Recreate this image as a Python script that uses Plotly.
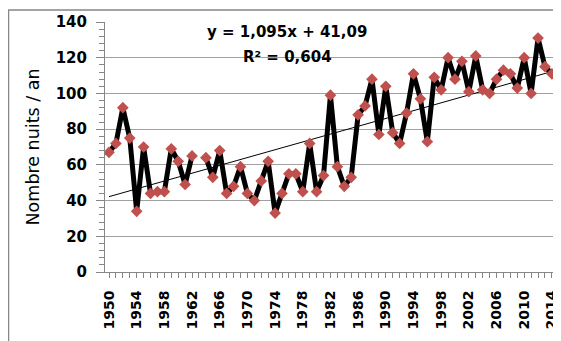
import plotly.graph_objects as go

# ---- data ----
years = list(range(1950, 2017))
nights = [
    67, 72, 92, 75, 34, 70, 44, 45, 45, 69,      # 1950-1959
    62, 49, 65, None, 64, 53, 68, 44, 48, 59,    # 1960-1969
    44, 40, 51, 62, 33, 44, 55, 55, 45, 72,      # 1970-1979
    45, 54, 99, 59, 48, 53, 88, 93, 108, 77,     # 1980-1989
    104, 78, 72, 89, 111, 97, 73, 109, 102, 120, # 1990-1999
    108, 118, 101, 121, 102, 100, 108, 113, 111, 103,  # 2000-2009
    120, 100, 131, 115, 111, 112, 124,           # 2010-2016
]
trend_slope = 1.095
trend_intercept = 41.09
trend_label = "y = 1,095x + 41,09"
r2_label = "R² = 0,604"
x_tick_years = list(range(1950, 2015, 4))
y_title = "Nombre nuits / an"

trend_x = [years[0], years[-1]]
trend_y = [trend_slope * (yr - years[0] + 1) + trend_intercept for yr in trend_x]

FONT = "DejaVu Sans"

fig = go.Figure()
fig.add_trace(go.Scatter(
    x=trend_x, y=trend_y, mode="lines",
    line=dict(color="black", width=1), hoverinfo="skip", showlegend=False))
fig.add_trace(go.Scatter(
    x=years, y=nights, mode="lines+markers", connectgaps=False,
    line=dict(color="black", width=5),
    marker=dict(symbol="diamond", size=9, color="#C0504D", line=dict(width=0)),
    showlegend=False))

# page has an 8px body margin; plot area in page px: left 105, top 22, 456 x 250.5
OFF = 8
PL, PT, PW, PH = 105, 22, 456, 250.5
px_per_year = 6.92
x0 = 1950 - 4 / px_per_year
x1 = x0 + PW / px_per_year
W, H = 561 - OFF, 341 - OFF

def px(xp):
    return (xp - PL) / PW

def py(yp):
    return (PT + PH - yp) / PH

fig.update_layout(
    width=W, height=H,
    margin=dict(l=PL - OFF, r=W - (PL - OFF) - PW, t=PT - OFF, b=H - (PT - OFF) - PH,
                pad=0, autoexpand=False),
    paper_bgcolor="white", plot_bgcolor="white",
    font=dict(family=FONT, color="black"),
    xaxis=dict(
        range=[x0, x1], tickmode="array", tickvals=x_tick_years,
        ticktext=[str(v) for v in x_tick_years],
        tickangle=-90, tickfont=dict(family=FONT, size=14, color="black", weight="bold"),
        ticks="outside", ticklen=5, tickcolor="#868686", tickwidth=1,
        minor=dict(dtick=1, tick0=1950, ticks="outside", ticklen=5, tickcolor="#868686", showgrid=False),
        showline=True, linecolor="#868686", linewidth=1,
        showgrid=False, zeroline=False, ticklabelstandoff=7, automargin=False,
    ),
    yaxis=dict(
        range=[0, 140], dtick=20, tick0=0,
        tickfont=dict(family=FONT, size=15, color="black", weight="bold"),
        ticks="outside", ticklen=8, tickcolor="#868686", tickwidth=1,
        minor=dict(dtick=4, ticks="outside", ticklen=5, tickcolor="#868686", showgrid=False),
        showline=True, linecolor="#868686", linewidth=1,
        showgrid=True, gridcolor="#a0a0a0", gridwidth=1, zeroline=False,
        ticklabelstandoff=6, automargin=False,
        title=dict(text=y_title, font=dict(family=FONT, size=17.5, color="black"), standoff=11),
    ),
    annotations=[
        dict(text=trend_label, xref="paper", yref="paper",
             x=px(287), y=py(31.7),
             xanchor="center", yanchor="middle", showarrow=False,
             font=dict(family=FONT, size=15, color="black", weight="bold")),
        dict(text=r2_label, xref="paper", yref="paper",
             x=px(287), y=py(56.7),
             xanchor="center", yanchor="middle", showarrow=False,
             font=dict(family=FONT, size=15, color="black", weight="bold")),
    ],
    shapes=[
        dict(type="rect", xref="paper", yref="paper",
             x0=px(8.5), x1=px(600), y0=py(400), y1=py(10),
             line=dict(color="#868686", width=1.5), fillcolor="rgba(0,0,0,0)", layer="above"),
    ],
)

fig.write_html("out.html")
